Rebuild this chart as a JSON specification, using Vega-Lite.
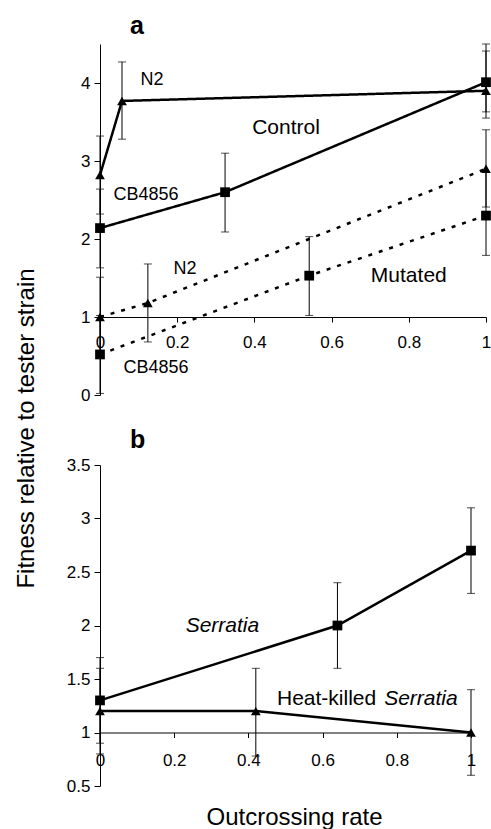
{
  "$schema": "https://vega.github.io/schema/vega-lite/v6.json",
  "padding": {"left": 14, "top": 13, "right": 0, "bottom": 0},
  "bounds": "flush",
  "spacing": 70,
  "datasets": {
    "panelA": [
      {"treatment": "Control", "strain": "N2", "x": 0, "y": 2.82, "lo": 2.32, "hi": 3.32},
      {"treatment": "Control", "strain": "N2", "x": 0.057, "y": 3.77, "lo": 3.28, "hi": 4.27},
      {"treatment": "Control", "strain": "N2", "x": 1, "y": 3.9, "lo": 3.55, "hi": 4.41},
      {"treatment": "Control", "strain": "CB4856", "x": 0, "y": 2.14, "lo": 1.63, "hi": 2.64},
      {"treatment": "Control", "strain": "CB4856", "x": 0.324, "y": 2.6, "lo": 2.09, "hi": 3.1},
      {"treatment": "Control", "strain": "CB4856", "x": 1, "y": 4.01, "lo": 3.63, "hi": 4.5},
      {"treatment": "Mutated", "strain": "N2", "x": 0, "y": 1.0, "lo": 0.5, "hi": 1.51},
      {"treatment": "Mutated", "strain": "N2", "x": 0.124, "y": 1.18, "lo": 0.68, "hi": 1.68},
      {"treatment": "Mutated", "strain": "N2", "x": 1, "y": 2.9, "lo": 2.41, "hi": 3.4},
      {"treatment": "Mutated", "strain": "CB4856", "x": 0, "y": 0.52, "lo": 0.02, "hi": 1.02},
      {"treatment": "Mutated", "strain": "CB4856", "x": 0.542, "y": 1.53, "lo": 1.02, "hi": 2.03},
      {"treatment": "Mutated", "strain": "CB4856", "x": 1, "y": 2.3, "lo": 1.79, "hi": 2.86}
    ],
    "labelsA": [
      {"label": "N2", "kind": "strain", "x": 0.135, "y": 4.04},
      {"label": "CB4856", "kind": "strain", "x": 0.119, "y": 2.57},
      {"label": "N2", "kind": "strain", "x": 0.22, "y": 1.61},
      {"label": "CB4856", "kind": "strain", "x": 0.145, "y": 0.34},
      {"label": "Control", "kind": "group", "x": 0.482, "y": 3.42},
      {"label": "Mutated", "kind": "group", "x": 0.8, "y": 1.53}
    ],
    "panelB": [
      {"series": "Serratia", "x": 0, "y": 1.3, "lo": 0.9, "hi": 1.7},
      {"series": "Serratia", "x": 0.64, "y": 2.0, "lo": 1.6, "hi": 2.4},
      {"series": "Serratia", "x": 1, "y": 2.7, "lo": 2.3, "hi": 3.1},
      {"series": "Heat-killed", "x": 0, "y": 1.2, "lo": 0.8, "hi": 1.6},
      {"series": "Heat-killed", "x": 0.42, "y": 1.2, "lo": 0.78, "hi": 1.6},
      {"series": "Heat-killed", "x": 1, "y": 1.0, "lo": 0.6, "hi": 1.4}
    ],
    "labelsB": [
      {"id": "s1", "label": "Serratia", "x": 0.33, "y": 2.0},
      {"id": "h1", "label": "Heat-killed", "x": 0.477, "y": 1.31},
      {"id": "h2", "label": "Serratia", "x": 0.766, "y": 1.31}
    ]
  },
  "vconcat": [
    {
      "width": 386,
      "height": 351,
      "title": {"text": "a", "anchor": "start", "frame": "group", "dx": 30, "offset": 5, "fontSize": 25, "fontWeight": "bold", "font": "Liberation Sans", "color": "black"},
      "encoding": {
        "x": {"field": "x", "type": "quantitative", "scale": {"domain": [0, 1], "nice": false, "zero": false},
          "axis": {"title": null, "offset": -78, "values": [0, 0.2, 0.4, 0.6, 0.8, 1], "format": "~g", "labelPadding": 12, "tickSize": 5}},
        "y": {"field": "y", "type": "quantitative", "scale": {"domain": [0, 4.5], "nice": false, "zero": false},
          "axis": {"title": "Fitness relative to tester strain", "values": [0, 1, 2, 3, 4], "format": "~g", "tickSize": 6, "labelPadding": 4,
            "titleX": -67, "titleY": 384, "titleAngle": -90, "titleBaseline": "alphabetic", "titleAlign": "center"}}
      },
      "layer": [
        {
          "data": {"name": "panelA"},
          "mark": {"type": "rule", "strokeWidth": 1, "color": "black"},
          "encoding": {"y": {"field": "lo", "type": "quantitative"}, "y2": {"field": "hi"}}
        },
        {
          "data": {"name": "panelA"},
          "mark": {"type": "tick", "orient": "horizontal", "size": 8, "thickness": 1, "color": "black"},
          "encoding": {"y": {"field": "lo", "type": "quantitative"}}
        },
        {
          "data": {"name": "panelA"},
          "mark": {"type": "tick", "orient": "horizontal", "size": 8, "thickness": 1, "color": "black"},
          "encoding": {"y": {"field": "hi", "type": "quantitative"}}
        },
        {
          "data": {"name": "panelA"},
          "mark": {"type": "line", "strokeWidth": 2.5, "color": "black"},
          "encoding": {
            "detail": [{"field": "strain"}, {"field": "treatment"}],
            "strokeDash": {"field": "treatment", "type": "nominal", "scale": {"domain": ["Control", "Mutated"], "range": [[1, 0], [4, 7]]}, "legend": null}
          }
        },
        {
          "data": {"name": "panelA"},
          "mark": {"type": "point", "filled": true, "opacity": 1, "color": "black", "size": 95},
          "encoding": {
            "shape": {"field": "strain", "type": "nominal", "scale": {"domain": ["N2", "CB4856"], "range": ["triangle-up", "square"]}, "legend": null}
          }
        },
        {
          "data": {"name": "labelsA"},
          "transform": [{"filter": "datum.kind === 'strain'"}],
          "mark": {"type": "text", "font": "Liberation Sans", "fontSize": 18, "align": "center", "baseline": "middle", "color": "black"},
          "encoding": {"text": {"field": "label"}}
        },
        {
          "data": {"name": "labelsA"},
          "transform": [{"filter": "datum.kind === 'group'"}],
          "mark": {"type": "text", "font": "Liberation Sans", "fontSize": 21, "align": "center", "baseline": "middle", "color": "black"},
          "encoding": {"text": {"field": "label"}}
        }
      ]
    },
    {
      "width": 371,
      "height": 321,
      "title": {"text": "b", "anchor": "start", "frame": "group", "dx": 30, "offset": 3, "fontSize": 25, "fontWeight": "bold", "font": "Liberation Sans", "color": "black"},
      "encoding": {
        "x": {"field": "x", "type": "quantitative", "scale": {"domain": [0, 1], "nice": false, "zero": false},
          "axis": {"title": "Outcrossing rate", "offset": -53.5, "values": [0, 0.2, 0.4, 0.6, 0.8, 1], "format": "~g", "labelPadding": 15, "tickSize": 5,
            "titleX": 194, "titleY": 92, "titleBaseline": "alphabetic", "titleAlign": "center"}},
        "y": {"field": "y", "type": "quantitative", "scale": {"domain": [0.5, 3.5], "nice": false, "zero": false},
          "axis": {"title": null, "values": [0.5, 1, 1.5, 2, 2.5, 3, 3.5], "format": "~g", "tickSize": 6, "labelPadding": 4}}
      },
      "layer": [
        {
          "data": {"name": "panelB"},
          "mark": {"type": "rule", "strokeWidth": 1, "color": "black"},
          "encoding": {"y": {"field": "lo", "type": "quantitative"}, "y2": {"field": "hi"}}
        },
        {
          "data": {"name": "panelB"},
          "mark": {"type": "tick", "orient": "horizontal", "size": 8, "thickness": 1, "color": "black"},
          "encoding": {"y": {"field": "lo", "type": "quantitative"}}
        },
        {
          "data": {"name": "panelB"},
          "mark": {"type": "tick", "orient": "horizontal", "size": 8, "thickness": 1, "color": "black"},
          "encoding": {"y": {"field": "hi", "type": "quantitative"}}
        },
        {
          "data": {"name": "panelB"},
          "mark": {"type": "line", "strokeWidth": 2.5, "color": "black"},
          "encoding": {"detail": {"field": "series"}}
        },
        {
          "data": {"name": "panelB"},
          "mark": {"type": "point", "filled": true, "opacity": 1, "color": "black", "size": 95},
          "encoding": {
            "shape": {"field": "series", "type": "nominal", "scale": {"domain": ["Heat-killed", "Serratia"], "range": ["triangle-up", "square"]}, "legend": null}
          }
        },
        {
          "data": {"name": "labelsB"},
          "transform": [{"filter": "datum.id === 's1'"}],
          "mark": {"type": "text", "font": "Liberation Sans", "fontSize": 21, "fontStyle": "italic", "align": "center", "baseline": "middle", "color": "black"},
          "encoding": {"text": {"field": "label"}}
        },
        {
          "data": {"name": "labelsB"},
          "transform": [{"filter": "datum.id === 'h1'"}],
          "mark": {"type": "text", "font": "Liberation Sans", "fontSize": 21, "align": "left", "baseline": "middle", "color": "black"},
          "encoding": {"text": {"field": "label"}}
        },
        {
          "data": {"name": "labelsB"},
          "transform": [{"filter": "datum.id === 'h2'"}],
          "mark": {"type": "text", "font": "Liberation Sans", "fontSize": 21, "fontStyle": "italic", "align": "left", "baseline": "middle", "color": "black"},
          "encoding": {"text": {"field": "label"}}
        }
      ]
    }
  ],
  "config": {
    "view": {"stroke": null},
    "axis": {
      "grid": false,
      "domainColor": "black",
      "domainWidth": 1,
      "tickColor": "black",
      "labelColor": "black",
      "titleColor": "black",
      "labelFont": "Liberation Sans",
      "titleFont": "Liberation Sans",
      "labelFontSize": 17,
      "titleFontSize": 24,
      "titleFontWeight": "normal",
      "labelFlush": false,
      "labelOverlap": false
    }
  }
}
